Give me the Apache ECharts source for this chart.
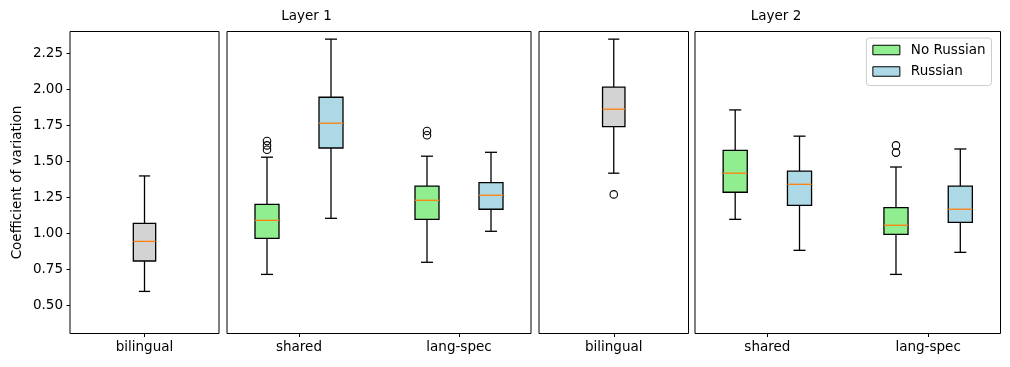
<!DOCTYPE html>
<html>
<head>
<meta charset="utf-8">
<script src="https://cdn.jsdelivr.net/npm/echarts@6/dist/echarts.min.js"></script>
<style>
html,body{margin:0;padding:0;background:#fff;}
#chart{width:1010px;height:367px;}
</style>
</head>
<body>
<div id="chart"></div>
<script>
// ---- data (box stats: [whisker low, Q1, median, Q3, whisker high]) ----
const layers = ['Layer 1', 'Layer 2'];
const groups = ['shared', 'lang-spec'];
const bilingualLabel = ['bilingual'];
const seriesNames = ['No Russian', 'Russian'];
const yTicks = [0.50, 0.75, 1.00, 1.25, 1.50, 1.75, 2.00, 2.25];

const l1Bilingual = [0.597, 0.808, 0.944, 1.069, 1.398];
const l1NoRussian = [
  [0.715, 0.965, 1.090, 1.201, 1.528],   // shared
  [0.799, 1.097, 1.229, 1.328, 1.535]    // lang-spec
];
const l1Russian = [
  [1.104, 1.592, 1.764, 1.944, 2.347],
  [1.014, 1.167, 1.264, 1.351, 1.562]
];
const l2Bilingual = [1.417, 1.740, 1.861, 2.014, 2.347];
const l2NoRussian = [
  [1.097, 1.285, 1.417, 1.576, 1.856],
  [0.715, 0.993, 1.056, 1.178, 1.460]
];
const l2Russian = [
  [0.882, 1.194, 1.340, 1.431, 1.674],
  [0.868, 1.076, 1.167, 1.328, 1.585]
];

// outliers
const l1BilingualOut = [];
const l1NoRussianOut = [[1.64, 1.61, 1.58], [1.71, 1.68]];
const l1RussianOut = [[], []];
const l2BilingualOut = [1.27];
const l2NoRussianOut = [[], [1.61, 1.56]];
const l2RussianOut = [[], []];

// ---- styling / layout ----
const FONT = 'DejaVu Sans';
const FS = 13.5;
const COLORS = { 'No Russian': '#90ee90', 'Russian': '#add8e6', 'bilingual': '#d3d3d3' };
const BOX_W = 0.15;
const OFFSET = 0.2;
const LW = 1.3;
const Y_MIN = 0.305, Y_MAX = 2.4;

const gridsPx = [
  { left: 70, width: 149 },
  { left: 227, width: 304 },
  { left: 539, width: 149.5 },
  { left: 695, width: 305.5 }
];
const TOP = 31.5, HEIGHT = 302;

function renderBox(params, api) {
  const x = api.value(0);
  const lo = api.value(1), q1 = api.value(2), med = api.value(3), q3 = api.value(4), hi = api.value(5);
  const halfW = api.size([BOX_W, 0])[0] / 2;
  const capHalf = halfW / 2;
  const pLo = api.coord([x, lo]), pQ1 = api.coord([x, q1]), pMed = api.coord([x, med]);
  const pQ3 = api.coord([x, q3]), pHi = api.coord([x, hi]);
  const px = pMed[0];
  const color = api.visual('color');
  const ls = { stroke: '#000', lineWidth: LW };
  return {
    type: 'group',
    children: [
      { type: 'line', shape: { x1: px, y1: pLo[1], x2: px, y2: pQ1[1] }, style: ls },
      { type: 'line', shape: { x1: px, y1: pQ3[1], x2: px, y2: pHi[1] }, style: ls },
      { type: 'line', shape: { x1: px - capHalf, y1: pLo[1], x2: px + capHalf, y2: pLo[1] }, style: ls },
      { type: 'line', shape: { x1: px - capHalf, y1: pHi[1], x2: px + capHalf, y2: pHi[1] }, style: ls },
      { type: 'rect', shape: { x: px - halfW, y: pQ3[1], width: 2 * halfW, height: pQ1[1] - pQ3[1] },
        style: { fill: color, stroke: '#000', lineWidth: LW } },
      { type: 'line', shape: { x1: px - halfW, y1: pMed[1], x2: px + halfW, y2: pMed[1] },
        style: { stroke: '#ff7f0e', lineWidth: LW } }
    ]
  };
}

const grid = gridsPx.map(g => ({
  left: g.left, width: g.width, top: TOP, height: HEIGHT,
  show: true, borderColor: '#000', borderWidth: 1, backgroundColor: 'transparent'
}));

function xAxisFor(idx, labels) {
  const vals = labels.map((_, i) => i + 1);
  const single = labels.length === 1;
  return {
    type: 'value', gridIndex: idx,
    min: single ? 0.5 : 0.55, max: single ? 1.5 : labels.length + 0.45,
    axisLine: { show: false },
    splitLine: { show: false },
    axisTick: { show: true, inside: false, length: 3.5, customValues: vals, lineStyle: { color: '#000', width: 1 } },
    axisLabel: { show: true, customValues: vals, margin: 7, color: '#000', fontSize: FS, fontFamily: FONT,
      formatter: v => labels[Math.round(v) - 1] || '' }
  };
}
const xAxis = [xAxisFor(0, bilingualLabel), xAxisFor(1, groups), xAxisFor(2, bilingualLabel), xAxisFor(3, groups)];

const yAxis = [0, 1, 2, 3].map(i => ({
  type: 'value', gridIndex: i, min: Y_MIN, max: Y_MAX,
  axisLine: { show: false },
  splitLine: { show: false },
  axisTick: { show: i === 0, inside: false, length: 3.5, customValues: yTicks, lineStyle: { color: '#000', width: 1 } },
  axisLabel: { show: i === 0, customValues: yTicks, margin: 7, color: '#000', fontSize: FS, fontFamily: FONT,
    formatter: v => v.toFixed(2) },
  name: i === 0 ? 'Coefficient of variation' : '',
  nameLocation: 'middle', nameGap: 46,
  nameTextStyle: { color: '#000', fontSize: FS, fontFamily: FONT }
}));

const series = [];
function addBoxSeries(name, gridIdx, items) {
  series.push({
    type: 'custom', name: name, xAxisIndex: gridIdx, yAxisIndex: gridIdx,
    renderItem: renderBox, itemStyle: { color: COLORS[name] },
    encode: { x: 0, y: [1, 2, 3, 4, 5] },
    data: items, silent: true, z: 2
  });
}
function addOutliers(gridIdx, pts) {
  series.push({
    type: 'scatter', name: 'outliers', xAxisIndex: gridIdx, yAxisIndex: gridIdx,
    symbol: 'circle', symbolSize: 7.5, silent: true, z: 3,
    itemStyle: { color: 'rgba(0,0,0,0)', borderColor: '#000', borderWidth: 1.1, opacity: 1 },
    data: pts
  });
}

// Layer 1
addBoxSeries('bilingual', 0, [[1].concat(l1Bilingual)]);
addOutliers(0, l1BilingualOut.map(v => [1, v]));
addBoxSeries('No Russian', 1, l1NoRussian.map((s, i) => [i + 1 - OFFSET].concat(s)));
addBoxSeries('Russian', 1, l1Russian.map((s, i) => [i + 1 + OFFSET].concat(s)));
addOutliers(1, [].concat(
  ...l1NoRussianOut.map((arr, i) => arr.map(v => [i + 1 - OFFSET, v])),
  ...l1RussianOut.map((arr, i) => arr.map(v => [i + 1 + OFFSET, v]))));
// Layer 2
addBoxSeries('bilingual', 2, [[1].concat(l2Bilingual)]);
addOutliers(2, l2BilingualOut.map(v => [1, v]));
addBoxSeries('No Russian', 3, l2NoRussian.map((s, i) => [i + 1 - OFFSET].concat(s)));
addBoxSeries('Russian', 3, l2Russian.map((s, i) => [i + 1 + OFFSET].concat(s)));
addOutliers(3, [].concat(
  ...l2NoRussianOut.map((arr, i) => arr.map(v => [i + 1 - OFFSET, v])),
  ...l2RussianOut.map((arr, i) => arr.map(v => [i + 1 + OFFSET, v]))));

const chart = echarts.init(document.getElementById('chart'), null, { renderer: 'canvas' });
chart.setOption({
  animation: false,
  backgroundColor: '#fff',
  textStyle: { fontFamily: FONT },
  grid: grid,
  xAxis: xAxis,
  yAxis: yAxis,
  legend: {
    right: 18.5, top: 38, orient: 'vertical',
    backgroundColor: '#fff', borderColor: '#cccccc', borderWidth: 1, borderRadius: 3,
    padding: [5, 6, 7, 6], itemGap: 7.5, itemWidth: 27, itemHeight: 9.5,
    selectedMode: false,
    textStyle: { color: '#000', fontSize: FS, fontFamily: FONT, lineHeight: 14, padding: [0, 0, 0, 6] },
    data: seriesNames.map(n => ({ name: n, icon: 'rect',
      itemStyle: { color: COLORS[n], borderColor: '#000', borderWidth: 1 } }))
  },
  graphic: [
    { type: 'text', x: 306.5, y: 16, style: { text: layers[0], align: 'center', verticalAlign: 'middle',
      fontSize: FS, fontFamily: FONT, fill: '#000' } },
    { type: 'text', x: 776, y: 16, style: { text: layers[1], align: 'center', verticalAlign: 'middle',
      fontSize: FS, fontFamily: FONT, fill: '#000' } }
  ],
  series: series
});
</script>
</body>
</html>
